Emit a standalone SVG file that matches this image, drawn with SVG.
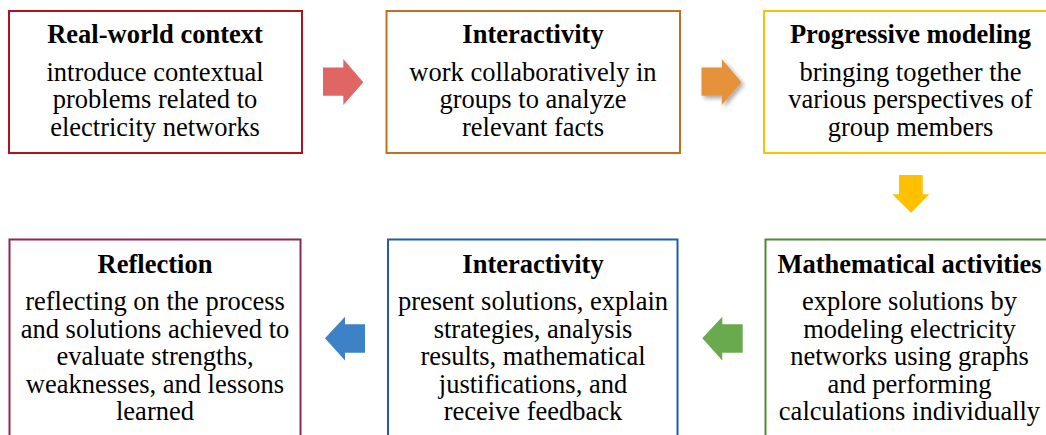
<svg xmlns="http://www.w3.org/2000/svg" width="1046" height="435" viewBox="0 0 1046 435">
  <style>
    .box { fill: #ffffff; stroke-width: 2; }
    .title { font-family: "Liberation Serif", "Times New Roman", serif; font-size: 26.5px; font-weight: bold; fill: #000000; text-anchor: middle; }
    .body { font-family: "Liberation Serif", "Times New Roman", serif; font-size: 26.5px; fill: #000000; text-anchor: middle; }
  </style>
  <defs>
    <filter id="soft-shadow" x="-30%" y="-30%" width="170%" height="170%">
      <feDropShadow dx="2.5" dy="2.5" stdDeviation="2" flood-color="#000000" flood-opacity="0.35"/>
    </filter>
  </defs>
  <rect x="0" y="0" width="1046" height="435" fill="#ffffff"/>

  <!-- flow arrows between stages -->
  <g id="connectors">
    <polygon points="323,67.5 343.3,67.5 343.3,59 363.3,82.3 343.3,105 343.3,95.8 323,95.8" fill="#E06666"/>
    <polygon points="701.5,67.5 721.8,67.5 721.8,59 741.5,82.3 721.8,105 721.8,95.8 701.5,95.8" fill="#E6923A" filter="url(#soft-shadow)"/>
    <polygon points="899,175 922.7,175 922.7,194.3 929.3,194.3 911,212.7 892.3,194.3 899,194.3" fill="#FFC000"/>
    <polygon points="742.7,324.3 722.3,324.3 722.3,316.7 702.3,338.3 722.3,360.5 722.3,352.7 742.7,352.7" fill="#6AAA4F"/>
    <polygon points="365,324.3 345,324.3 345,316.7 325,338.3 345,360.5 345,352.7 365,352.7" fill="#3D82C6"/>
  </g>

  <g id="real-world-context">
    <rect class="box" x="9" y="11" width="293" height="142" stroke="#AD1320"/>
    <text class="title" x="155" y="43.3">Real-world context</text>
    <text class="body" x="155" y="80.5">introduce contextual</text>
    <text class="body" x="155" y="108.3">problems related to</text>
    <text class="body" x="155" y="136">electricity networks</text>
  </g>

  <g id="interactivity-groups">
    <rect class="box" x="386.5" y="11" width="293.5" height="142" stroke="#C2701E"/>
    <text class="title" x="533" y="43.3">Interactivity</text>
    <text class="body" x="533" y="80.5">work collaboratively in</text>
    <text class="body" x="533" y="108.3">groups to analyze</text>
    <text class="body" x="533" y="136">relevant facts</text>
  </g>

  <g id="progressive-modeling">
    <rect class="box" x="764" y="11" width="300" height="142" stroke="#FFC000"/>
    <text class="title" x="910.5" y="43.3">Progressive modeling</text>
    <text class="body" x="910.5" y="80.5">bringing together the</text>
    <text class="body" x="910.5" y="108.3">various perspectives of</text>
    <text class="body" x="910.5" y="136">group members</text>
  </g>

  <g id="mathematical-activities">
    <rect class="box" x="765.5" y="239.5" width="300" height="210" stroke="#4E8A33"/>
    <text class="title" x="909.5" y="273.3">Mathematical activities</text>
    <text class="body" x="909.5" y="310">explore solutions by</text>
    <text class="body" x="909.5" y="337.5">modeling electricity</text>
    <text class="body" x="909.5" y="365">networks using graphs</text>
    <text class="body" x="909.5" y="392.7">and performing</text>
    <text class="body" x="909.5" y="420">calculations individually</text>
  </g>

  <g id="interactivity-presentation">
    <rect class="box" x="388" y="239.5" width="289.5" height="210" stroke="#1F5FA8"/>
    <text class="title" x="533" y="273.3">Interactivity</text>
    <text class="body" x="533" y="310">present solutions, explain</text>
    <text class="body" x="533" y="337.5">strategies, analysis</text>
    <text class="body" x="533" y="365">results, mathematical</text>
    <text class="body" x="533" y="392.7">justifications, and</text>
    <text class="body" x="533" y="420">receive feedback</text>
  </g>

  <g id="reflection">
    <rect class="box" x="9.5" y="239.5" width="291" height="210" stroke="#8C2A56"/>
    <text class="title" x="155" y="273.3">Reflection</text>
    <text class="body" x="155" y="310">reflecting on the process</text>
    <text class="body" x="155" y="337.5">and solutions achieved to</text>
    <text class="body" x="155" y="365">evaluate strengths,</text>
    <text class="body" x="155" y="392.7">weaknesses, and lessons</text>
    <text class="body" x="155" y="420">learned</text>
  </g>
</svg>
